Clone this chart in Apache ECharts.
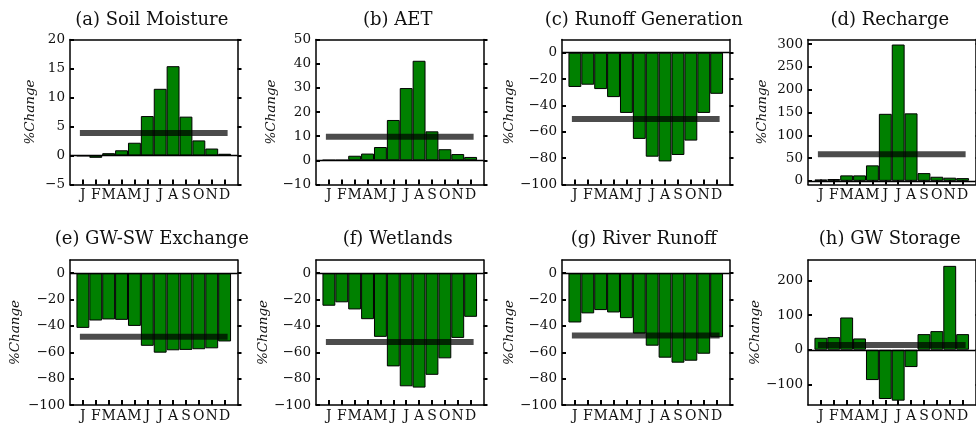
<!DOCTYPE html>
<html>
<head>
<meta charset="utf-8">
<script src="https://cdn.jsdelivr.net/npm/echarts@6/dist/echarts.min.js"></script>
<style>
  html, body { margin: 0; padding: 0; background: #fff; }
  #chart { width: 976px; height: 423px; }
</style>
</head>
<body>
<div id="chart"></div>
<script>
// Monthly % change per component
const months = ['J', 'F', 'M', 'A', 'M', 'J', 'J', 'A', 'S', 'O', 'N', 'D'];

const soilMoisture     = [-0.1, -0.4, 0.4, 0.9, 2.2, 6.8, 11.5, 15.4, 6.7, 2.6, 1.2, 0.3];
const aet              = [0.1, 0.1, 1.9, 2.8, 5.5, 16.7, 29.9, 41.2, 12.0, 4.6, 2.6, 1.4];
const runoffGeneration = [-26, -24.3, -27.6, -33.7, -45.7, -65.4, -78.9, -82.5, -77.6, -66.7, -45.7, -31.2];
const recharge         = [3, 4, 12, 12, 34, 147, 299, 148, 17, 9, 7, 6];
const gwSwExchange     = [-41.5, -35.9, -35.1, -35.4, -40, -55.1, -60.3, -58.5, -58.2, -57.7, -57, -51.8];
const wetlands         = [-24.7, -22.1, -27.5, -34.9, -48.3, -70.7, -85.8, -86.8, -77.1, -64.6, -49.1, -33.1];
const riverRunoff      = [-37.4, -30.5, -28, -29.8, -34.1, -45.8, -55, -64.1, -67.9, -66.4, -61.1, -48.6];
const gwStorage        = [34.7, 36.6, 93.5, 32.8, -87.8, -142.7, -147.5, -50.1, 45.3, 54, 243, 45.3];

// Annual mean change (horizontal band)
const annualMeans = [3.9, 9.8, -50.3, 58.5, -48.2, -52.2, -47.3, 13.5];

// Panel titles
const titles = ['(a) Soil Moisture', '(b) AET', '(c) Runoff Generation', '(d) Recharge',
                '(e) GW-SW Exchange', '(f) Wetlands', '(g) River Runoff', '(h) GW Storage'];

// Y tick labels per panel
const ticksA = [-5, 0, 5, 10, 15, 20];
const ticksB = [-10, 0, 10, 20, 30, 40, 50];
const ticksNeg100 = [-100, -80, -60, -40, -20, 0];
const ticksD = [0, 50, 100, 150, 200, 250, 300];
const ticksH = [-100, 0, 100, 200];

const seriesValues = [soilMoisture, aet, runoffGeneration, recharge,
                      gwSwExchange, wetlands, riverRunoff, gwStorage];
const tickSets = [ticksA, ticksB, ticksNeg100, ticksD, ticksNeg100, ticksNeg100, ticksNeg100, ticksH];

// Axis extents
const yRanges = [[-5, 20], [-10, 50], [-100, 10], [-8, 310],
                 [-100, 10], [-100, 10], [-100, 10], [-160, 260]];
const nameGaps = [33, 37, 40, 39, 48, 41, 42, 43];

const FONT = 'DejaVu Serif';
const colLefts = [70, 316, 562, 808];
const rowTops = [39.5, 260];
const W = 167.5, H = 145;
const monthPos = months.map((m, i) => i + 1);

const grids = [], xAxes = [], yAxes = [], series = [], graphics = [];
const fmtMinus = v => String(v).replace('-', '\u2212');

for (let p = 0; p < 8; p++) {
  const left = colLefts[p % 4];
  const top = rowTops[Math.floor(p / 4)];
  grids.push({ left: left, top: top, width: W, height: H });

  // bottom month axis
  xAxes.push({
    type: 'value', gridIndex: p, min: 0, max: 13, position: 'bottom',
    splitLine: { show: false },
    axisLine: { show: true, onZero: false, lineStyle: { color: '#000', width: 1.5 } },
    axisTick: { show: true, inside: true, length: 5, customValues: monthPos,
                lineStyle: { color: '#000', width: 2 } },
    axisLabel: { show: true, customValues: monthPos, margin: 4,
                 formatter: v => months[v - 1] || '',
                 fontFamily: FONT, fontSize: 14, color: '#111' }
  });
  // top frame
  xAxes.push({
    type: 'value', gridIndex: p, min: 0, max: 13, position: 'top',
    splitLine: { show: false },
    axisLine: { show: true, onZero: false, lineStyle: { color: '#000', width: 1.5 } },
    axisTick: { show: false }, axisLabel: { show: false }
  });
  const ticks = tickSets[p];
  yAxes.push({
    type: 'value', gridIndex: p, min: yRanges[p][0], max: yRanges[p][1], position: 'left',
    splitLine: { show: false },
    name: '%Change', nameLocation: 'middle', nameGap: nameGaps[p],
    nameTextStyle: { fontFamily: FONT, fontStyle: 'italic', fontSize: 13.5, color: '#111' },
    axisLine: { show: true, onZero: false, lineStyle: { color: '#000', width: 1.5 } },
    axisTick: { show: true, inside: true, length: 4, customValues: ticks,
                lineStyle: { color: '#000', width: 2 } },
    axisLabel: { show: true, customValues: ticks, margin: 5, formatter: fmtMinus,
                 fontFamily: FONT, fontSize: 13.5, color: '#111' }
  });
  yAxes.push({
    type: 'value', gridIndex: p, min: yRanges[p][0], max: yRanges[p][1], position: 'right',
    splitLine: { show: false },
    axisLine: { show: true, onZero: false, lineStyle: { color: '#000', width: 1.5 } },
    axisTick: { show: true, inside: false, length: 4, customValues: ticks,
                lineStyle: { color: '#000', width: 2 } },
    axisLabel: { show: false }
  });

  series.push({
    type: 'bar', xAxisIndex: 2 * p, yAxisIndex: 2 * p,
    data: seriesValues[p].map((v, i) => [i + 1, v]),
    barWidth: '100%',
    itemStyle: { color: '#008000', borderColor: '#000', borderWidth: 1 },
    markLine: {
      silent: true, symbol: 'none', animation: false,
      label: { show: false },
      lineStyle: { color: '#000', width: 1.3, type: 'solid' },
      data: [{ yAxis: 0 }]
    },
    z: 2
  });
  series.push({
    type: 'line', xAxisIndex: 2 * p, yAxisIndex: 2 * p,
    data: [[1, annualMeans[p]], [12, annualMeans[p]]],
    symbol: 'none', silent: true,
    lineStyle: { color: 'rgba(0,0,0,0.7)', width: 6, cap: 'square' },
    z: 5
  });

  graphics.push({
    type: 'text', x: left + W / 2 - 2, y: Math.floor(p / 4) === 0 ? 20.5 : 239.5,
    style: { text: titles[p], fill: '#111', font: '18px "DejaVu Serif"',
             textAlign: 'center', textVerticalAlign: 'middle' }
  });
}

const chart = echarts.init(document.getElementById('chart'), null, { renderer: 'canvas' });
chart.setOption({
  animation: false,
  backgroundColor: '#fff',
  grid: grids,
  xAxis: xAxes,
  yAxis: yAxes,
  series: series,
  graphic: graphics
});
</script>
</body>
</html>
